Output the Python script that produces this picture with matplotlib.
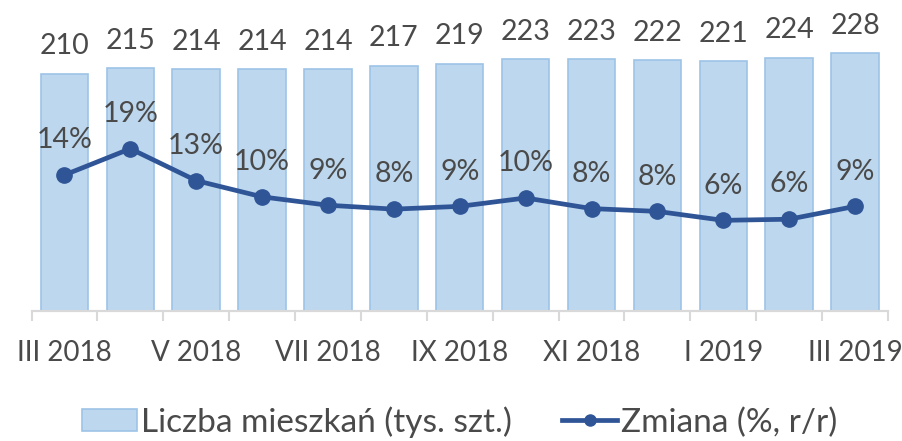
import matplotlib.pyplot as plt
from matplotlib.patches import Patch
from matplotlib.lines import Line2D
import numpy as np

plt.rcParams['font.family'] = ['Lato', 'DejaVu Sans']

months = ['III 2018', 'IV 2018', 'V 2018', 'VI 2018', 'VII 2018', 'VIII 2018', 'IX 2018',
          'X 2018', 'XI 2018', 'XII 2018', 'I 2019', 'II 2019', 'III 2019']
flats = [210, 215, 214, 214, 214, 217, 219, 223, 223, 222, 221, 224, 228]
change = [14.3, 19.0, 13.3, 10.4, 8.9, 8.2, 8.7, 10.2, 8.3, 7.8, 6.2, 6.4, 8.7]

txt = '#4a4a4a'
bar_col = '#BDD7EE'
bar_edge = '#9DC3E6'
line_col = '#2F5597'

fig = plt.figure(figsize=(9.02, 4.41), dpi=100)
ax = fig.add_axes([31.5/902, 130/441, (888-31.5)/902, 305/441])
x = np.arange(len(months))

ax.bar(x, flats, width=0.72, color=bar_col, edgecolor=bar_edge, linewidth=1.2, zorder=2)
for xi, v in zip(x, flats):
    ax.annotate(str(v), (xi, v), xytext=(0, 10.5), textcoords='offset points',
                ha='center', va='bottom', fontsize=20.5, color=txt)
ax.set_ylim(0, 270)
ax.set_xlim(-0.5, len(months) - 0.5)

ax2 = ax.twinx()
ax2.plot(x, change, color=line_col, lw=3.4, marker='o', ms=11, zorder=3)
for xi, v in zip(x, change):
    ax2.annotate('%d%%' % round(v), (xi, v), xytext=(0, 25), textcoords='offset points',
                 ha='center', va='center', fontsize=20.5, color=txt)
ax2.set_ylim(-10, 44.5)
ax2.set_yticks([])

for a in (ax, ax2):
    for s in ['top', 'right', 'left']:
        a.spines[s].set_visible(False)
    a.spines['bottom'].set_color('#D9D9D9')
    a.spines['bottom'].set_linewidth(1.5)

ax.set_yticks([])
ax.set_xticks(x[::2])
ax.set_xticklabels(months[::2], fontsize=20, color=txt)
ax.set_xticks(np.arange(-0.5, len(months)), minor=True)
ax.tick_params(axis='x', which='major', length=0, pad=21)
ax.tick_params(axis='x', which='minor', length=7.5, width=1.5, color='#D9D9D9')

handles = [Patch(facecolor=bar_col, edgecolor=bar_edge, linewidth=1.2),
           Line2D([], [], color=line_col, lw=3.4, marker='o', ms=8)]
fig.legend(handles, ['Liczba mieszkań (tys. szt.)', 'Zmiana (%, r/r)'],
           loc='center', bbox_to_anchor=(460/902, 1 - 422/441), ncol=2, frameon=False,
           fontsize=24, labelcolor=txt, handlelength=1.65, handleheight=0.66,
           handletextpad=0.12, columnspacing=1.5, borderpad=0)

fig.savefig('out.png', dpi=100)
